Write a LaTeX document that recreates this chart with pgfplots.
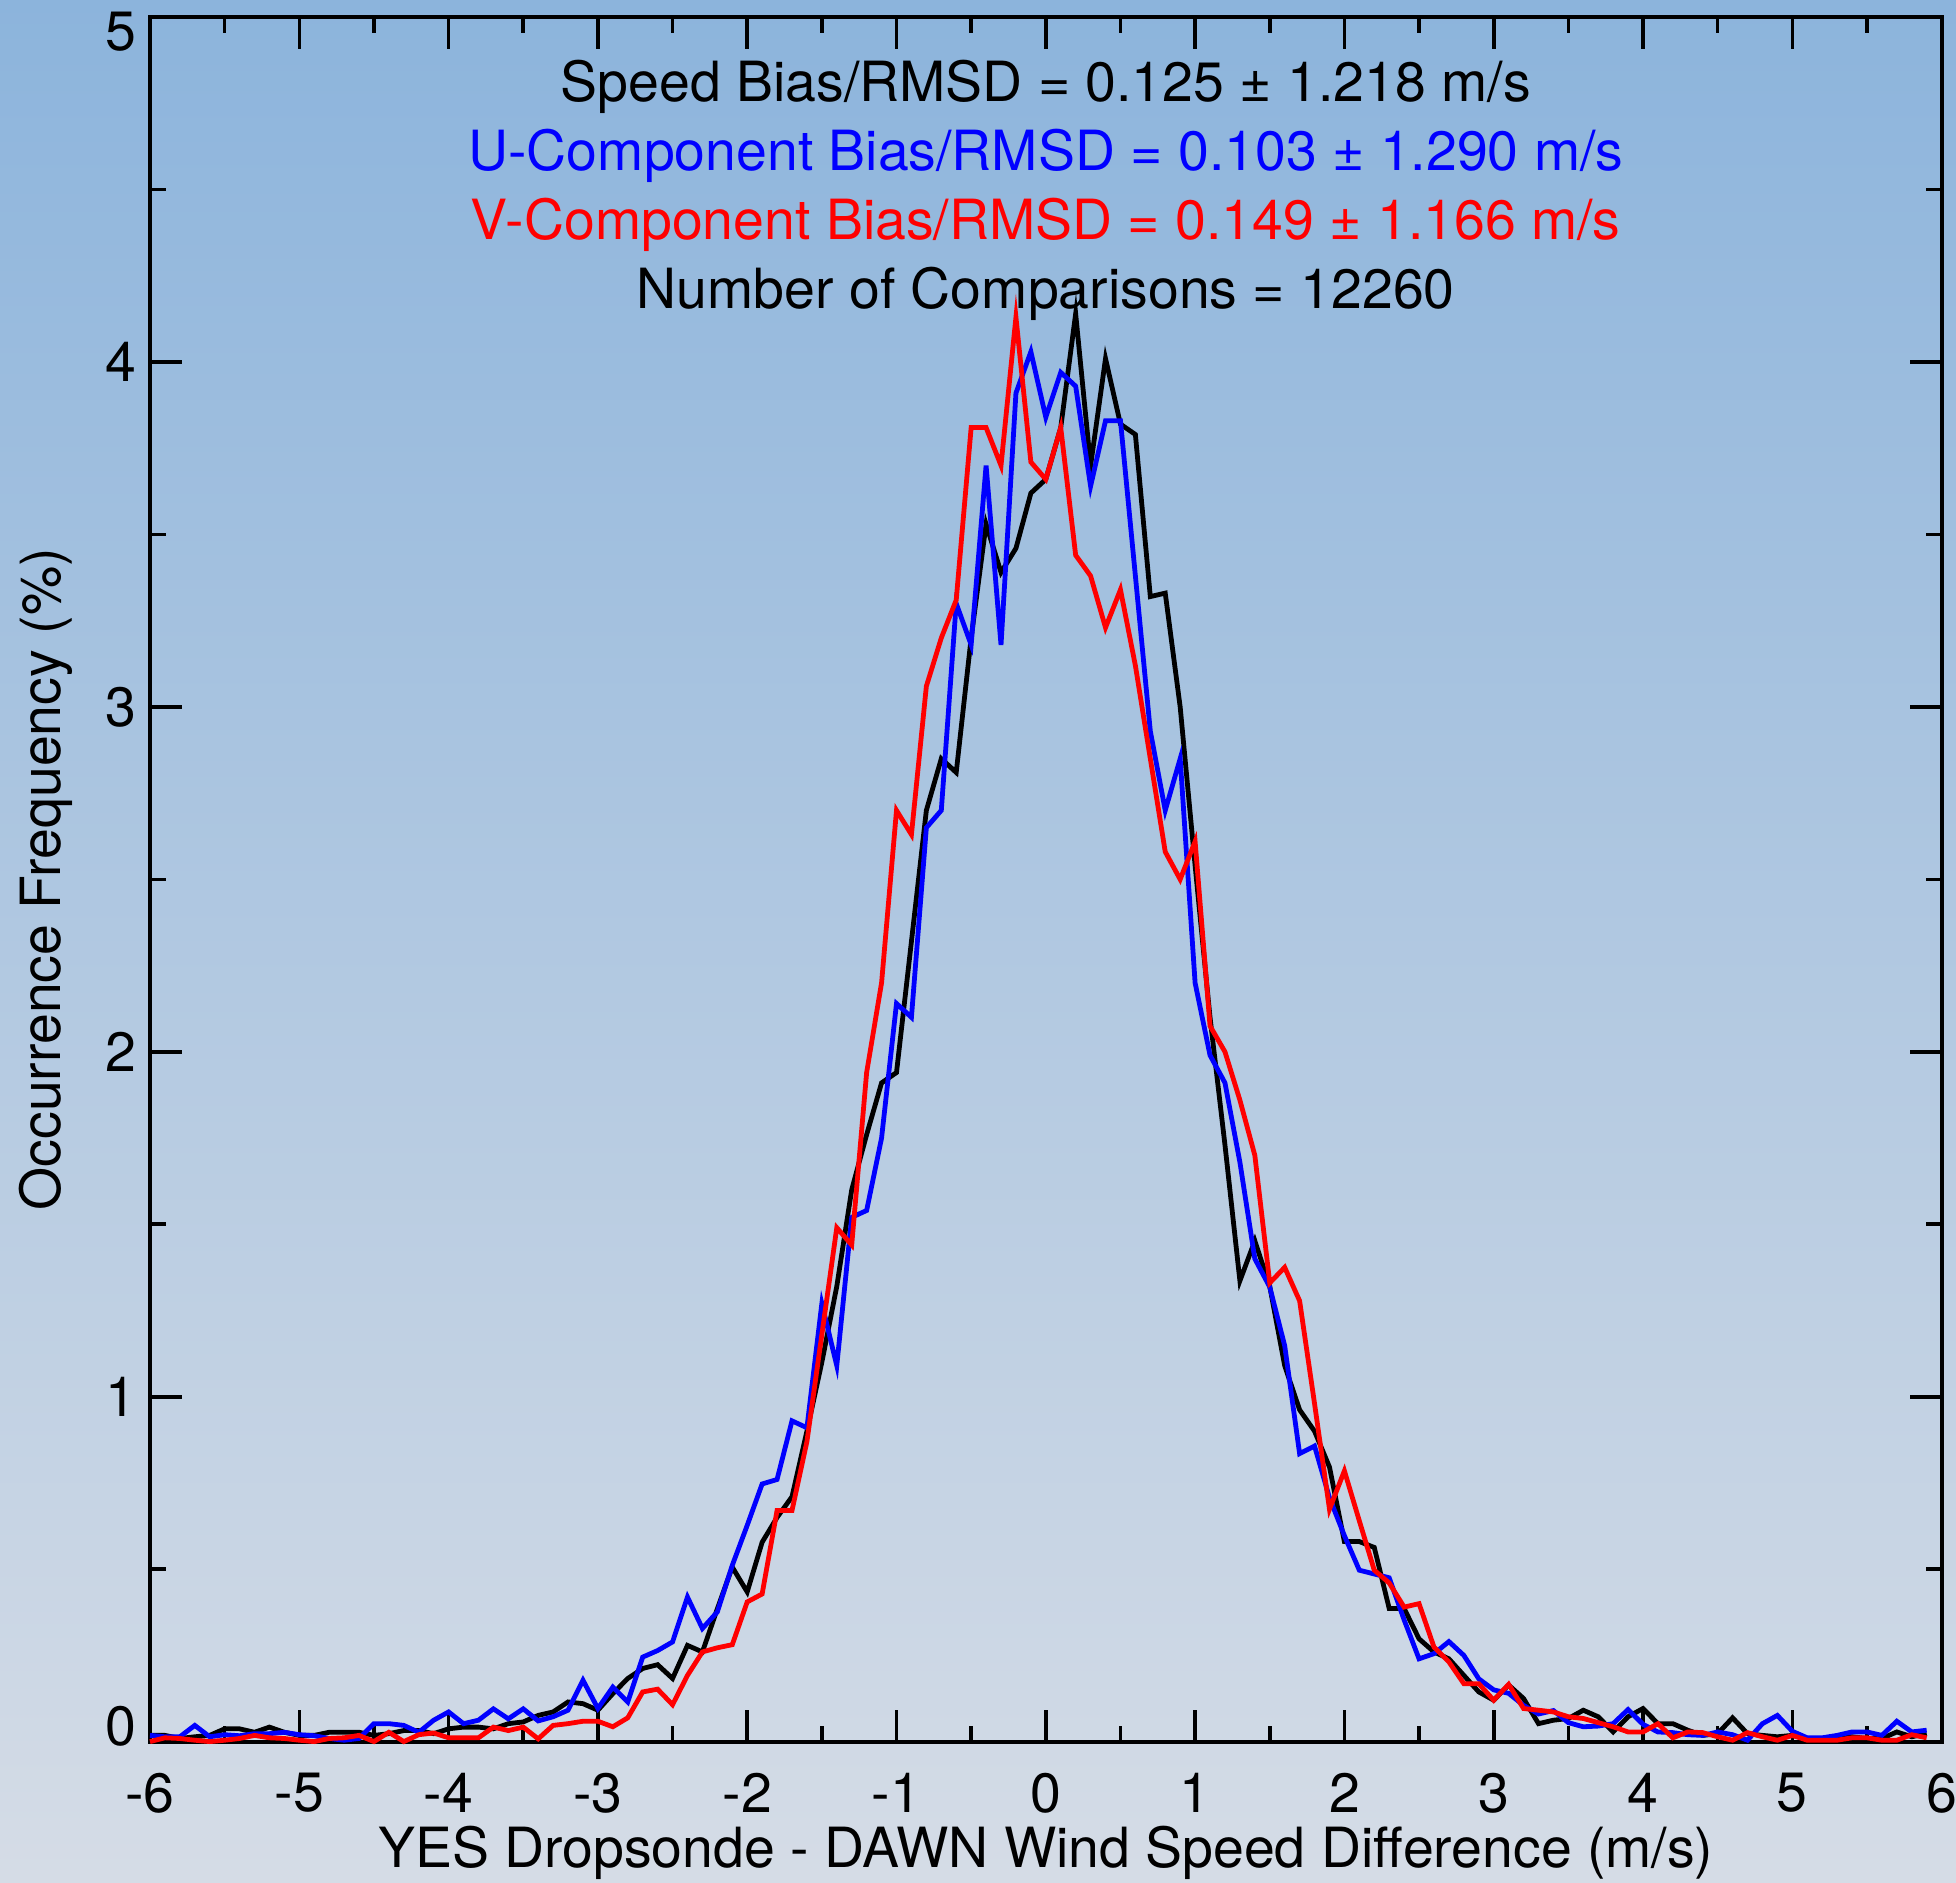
\documentclass[border=0pt]{standalone}
\usepackage{fontspec}
\setmainfont{TeX Gyre Heros}
\usepackage{pgfplots}
\pgfplotsset{compat=1.18}
\usepackage{pgfplotstable}
\definecolor{bgtop}{RGB}{140,180,220}
\definecolor{bgbot}{RGB}{213,220,230}

\pgfplotstableread{
x spd u v
-6.0 0.018 0.018 0.000
-5.9 0.018 0.014 0.011
-5.8 0.009 0.014 0.009
-5.7 0.014 0.047 0.004
-5.6 0.018 0.014 0.000
-5.5 0.037 0.020 0.004
-5.4 0.037 0.017 0.009
-5.3 0.027 0.023 0.018
-5.2 0.042 0.023 0.011
-5.1 0.027 0.027 0.009
-5.0 0.018 0.020 0.004
-4.9 0.018 0.017 0.000
-4.8 0.027 0.009 0.009
-4.7 0.027 0.004 0.011
-4.6 0.027 0.009 0.018
-4.5 0.018 0.052 0.000
-4.4 0.023 0.052 0.027
-4.3 0.032 0.047 0.000
-4.2 0.032 0.027 0.020
-4.1 0.023 0.062 0.025
-4.0 0.037 0.086 0.011
-3.9 0.042 0.052 0.011
-3.8 0.042 0.062 0.011
-3.7 0.037 0.095 0.042
-3.6 0.052 0.066 0.032
-3.5 0.057 0.095 0.042
-3.4 0.076 0.060 0.008
-3.3 0.086 0.072 0.047
-3.2 0.115 0.091 0.052
-3.1 0.110 0.178 0.059
-3.0 0.091 0.096 0.059
-2.9 0.139 0.158 0.043
-2.8 0.183 0.115 0.069
-2.7 0.212 0.245 0.144
-2.6 0.223 0.264 0.152
-2.5 0.183 0.289 0.107
-2.4 0.279 0.419 0.192
-2.3 0.260 0.328 0.260
-2.2 0.385 0.376 0.272
-2.1 0.506 0.511 0.281
-2.0 0.434 0.627 0.405
-1.9 0.578 0.747 0.428
-1.8 0.650 0.760 0.670
-1.7 0.710 0.930 0.670
-1.6 0.900 0.910 0.870
-1.5 1.100 1.270 1.180
-1.4 1.320 1.090 1.490
-1.3 1.600 1.520 1.440
-1.2 1.760 1.540 1.940
-1.1 1.910 1.750 2.200
-1.0 1.940 2.140 2.700
-0.9 2.320 2.100 2.630
-0.8 2.700 2.650 3.060
-0.7 2.850 2.700 3.200
-0.6 2.810 3.300 3.310
-0.5 3.200 3.180 3.810
-0.4 3.530 3.700 3.810
-0.3 3.390 3.180 3.700
-0.2 3.460 3.910 4.130
-0.1 3.620 4.030 3.710
0.0 3.660 3.840 3.660
0.1 3.810 3.970 3.810
0.2 4.140 3.930 3.440
0.3 3.700 3.640 3.380
0.4 4.010 3.830 3.230
0.5 3.820 3.830 3.340
0.6 3.790 3.380 3.120
0.7 3.320 2.930 2.850
0.8 3.330 2.700 2.580
0.9 3.000 2.850 2.500
1.0 2.540 2.200 2.610
1.1 2.100 1.990 2.075
1.2 1.730 1.910 2.000
1.3 1.336 1.680 1.860
1.4 1.452 1.400 1.700
1.5 1.320 1.318 1.330
1.6 1.090 1.148 1.375
1.7 0.962 0.835 1.278
1.8 0.900 0.857 0.980
1.9 0.796 0.707 0.674
2.0 0.580 0.597 0.785
2.1 0.580 0.497 0.640
2.2 0.563 0.486 0.497
2.3 0.386 0.475 0.460
2.4 0.386 0.353 0.390
2.5 0.298 0.240 0.400
2.6 0.260 0.255 0.274
2.7 0.240 0.290 0.231
2.8 0.192 0.250 0.168
2.9 0.144 0.182 0.168
3.0 0.120 0.150 0.120
3.1 0.164 0.140 0.166
3.2 0.125 0.105 0.096
3.3 0.052 0.080 0.091
3.4 0.062 0.090 0.086
3.5 0.067 0.055 0.072
3.6 0.091 0.043 0.067
3.7 0.072 0.045 0.055
3.8 0.028 0.052 0.043
3.9 0.072 0.093 0.028
4.0 0.096 0.050 0.028
4.1 0.052 0.028 0.052
4.2 0.052 0.026 0.011
4.3 0.033 0.020 0.028
4.4 0.018 0.018 0.026
4.5 0.023 0.028 0.014
4.6 0.069 0.020 0.004
4.7 0.023 0.004 0.026
4.8 0.018 0.052 0.014
4.9 0.014 0.076 0.004
5.0 0.018 0.030 0.018
5.1 0.009 0.011 0.004
5.2 0.007 0.011 0.004
5.3 0.011 0.018 0.004
5.4 0.014 0.028 0.011
5.5 0.009 0.028 0.011
5.6 0.009 0.018 0.004
5.7 0.028 0.059 0.004
5.8 0.014 0.028 0.020
5.9 0.023 0.033 0.011
}\datatable

\begin{document}
\begin{tikzpicture}[font=\fontsize{13.85}{16}\selectfont]
\shade[top color=bgtop, bottom color=bgbot] (0,0) rectangle (489pt,470.5pt);
\begin{axis}[
  at={(37.5pt,35.1pt)}, anchor=south west,
  scale only axis, width=447.9pt, height=431.1pt,
  xmin=-6, xmax=6, ymin=0, ymax=5,
  xtick={-6,-5,-4,-3,-2,-1,0,1,2,3,4,5,6},
  xticklabels={-6,-5,-4,-3,-2,-1,0,1,2,3,4,5,6},
  ytick={0,1,2,3,4,5},
  yticklabels={\raisebox{3.75pt}[\height][\depth]{0},1,2,3,4,\raisebox{-3.75pt}[\height][\depth]{5}},
  minor x tick num=1, minor y tick num=1,
  major tick length=8pt, minor tick length=4pt,
  tick style={line width=0.9pt, black},
  axis line style={line width=1pt, black},
  xticklabel style={yshift=-4.4pt},
  xlabel={YES Dropsonde - DAWN Wind Speed Difference (m/s)},
  ylabel={Occurrence Frequency (\%)},
  xlabel style={at={(axis description cs:0.5,0)}, anchor=base, yshift=-31.5pt},
  ylabel style={at={(axis description cs:-0.0497,0.5)}, anchor=base},
  clip=false,
]
\addplot[black, line width=1.2pt, line join=miter] table[x=x,y=spd] {\datatable};
\addplot[blue, line width=1.2pt, line join=miter] table[x=x,y=u] {\datatable};
\addplot[red, line width=1.2pt, line join=miter] table[x=x,y=v] {\datatable};
\node[anchor=base] at (axis cs:0,4.755) {Speed Bias/RMSD = 0.125 ± 1.218 m/s};
\node[anchor=base, text=blue] at (axis cs:0,4.555) {U-Component Bias/RMSD = 0.103 ± 1.290 m/s};
\node[anchor=base, text=red] at (axis cs:0,4.355) {V-Component Bias/RMSD = 0.149 ± 1.166 m/s};
\node[anchor=base] at (axis cs:0,4.155) {Number of Comparisons = 12260};
\end{axis}
\pgfresetboundingbox
\useasboundingbox (0,0) rectangle (489pt,470.5pt);
\end{tikzpicture}
\end{document}
